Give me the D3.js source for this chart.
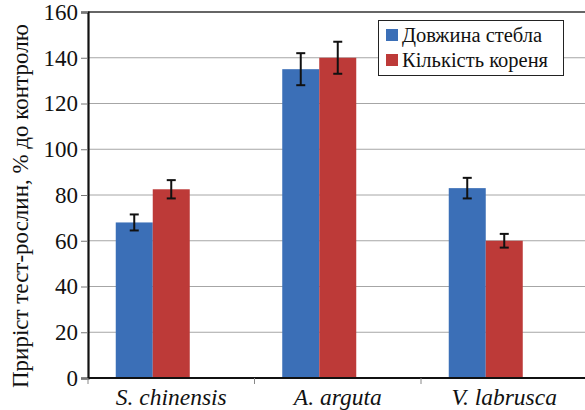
<!DOCTYPE html>
<html><head><meta charset="utf-8">
<script src="https://cdn.jsdelivr.net/npm/d3@7"></script>
<style>body{margin:0;background:#fff}svg{display:block}</style>
</head><body>
<script>
const categories = ["S. chinensis", "A. arguta", "V. labrusca"];
const seriesNames = ["Довжина стебла", "Кількість кореня"];
const stemLength = [68, 135, 83];
const stemErr = [3.5, 7, 4.5];
const rootCount = [82.5, 140, 60];
const rootErr = [4, 7, 3];
const yTicks = [0, 20, 40, 60, 80, 100, 120, 140, 160];
const yLabel = "Приріст тест-рослин, % до контролю";
const colors = ["#3b6fb7", "#bd3a38"];
const FONT = '"Liberation Serif"';

const W = 585, H = 410;
const m = {left: 88, right: 587.5, top: 12, bottom: 378};
const svg = d3.select("body").append("svg").attr("width", W).attr("height", H);

const x0 = d3.scaleBand().domain(categories).range([m.left, m.right]).padding(0);
const bw = x0.bandwidth();
const x1 = d3.scaleBand().domain([...seriesNames, "_"]).range([bw/6, bw*5/6]).padding(0);
const y = d3.scaleLinear().domain([0, 160]).range([m.bottom, m.top]);

// gridlines
svg.append("g").selectAll("line").data(yTicks.filter(d => d > 0 && d < 160)).join("line")
  .attr("x1", m.left).attr("x2", W).attr("y1", d => y(d)).attr("y2", d => y(d))
  .attr("stroke", "#a6a6a6").attr("stroke-width", 1);
// top border
svg.append("line").attr("x1", m.left).attr("x2", W).attr("y1", y(160)).attr("y2", y(160))
  .attr("stroke", "#333").attr("stroke-width", 1.5);

const series = [
  {name: seriesNames[0], values: stemLength, err: stemErr, color: colors[0]},
  {name: seriesNames[1], values: rootCount, err: rootErr, color: colors[1]}
];

series.forEach(s => {
  const g = svg.append("g");
  g.selectAll("rect").data(categories).join("rect")
    .attr("x", (c) => x0(c) + x1(s.name))
    .attr("width", x1.bandwidth())
    .attr("y", (c, i) => y(s.values[i]))
    .attr("height", (c, i) => y(0) - y(s.values[i]))
    .attr("fill", s.color);
});
series.forEach(s => {
  const g = svg.append("g").attr("stroke", "#111").attr("stroke-width", 2);
  categories.forEach((c, i) => {
    const cx = x0(c) + x1(s.name) + x1.bandwidth()/2;
    const hi = y(s.values[i] + s.err[i]), lo = y(s.values[i] - s.err[i]);
    g.append("line").attr("x1", cx).attr("x2", cx).attr("y1", hi).attr("y2", lo);
    g.append("line").attr("x1", cx-4.5).attr("x2", cx+4.5).attr("y1", hi).attr("y2", hi);
    g.append("line").attr("x1", cx-4.5).attr("x2", cx+4.5).attr("y1", lo).attr("y2", lo);
  });
});

// y axis
const yAxis = svg.append("g").attr("transform", `translate(${m.left},0)`)
  .call(d3.axisLeft(y).tickValues(yTicks).tickSize(7).tickPadding(3));
yAxis.attr("font-family", FONT).attr("font-size", 23);
yAxis.select(".domain").attr("stroke", "#111").attr("stroke-width", 2.2);
yAxis.selectAll(".tick line").attr("stroke", "#777");
yAxis.selectAll("text").style("font-family", FONT).style("font-size", "23px").attr("fill", "#111");

// x axis
const xAxis = svg.append("g").attr("transform", `translate(0,${m.bottom})`);
xAxis.append("line").attr("x1", m.left).attr("x2", W).attr("stroke", "#111").attr("stroke-width", 1.8);
xAxis.selectAll(".tk").data(categories).join("line").attr("class","tk")
  .attr("x1", c => x0(c)).attr("x2", c => x0(c)).attr("y1", 0).attr("y2", 6)
  .attr("stroke", "#888");
xAxis.selectAll("text").data(categories).join("text")
  .attr("x", c => x0(c) + bw/2).attr("y", 27)
  .attr("text-anchor", "middle")
  .style("font-family", FONT).style("font-style", "italic").style("font-size", "23.5px")
  .attr("fill", "#111").text(c => c);

// y label
svg.append("text").attr("transform", `translate(28,${388}) rotate(-90)`)
  .style("font-family", FONT).style("font-size", "23px").attr("fill", "#111")
  .text(yLabel);

// legend
const lg = svg.append("g");
lg.append("rect").attr("x", 378.5).attr("y", 20.5).attr("width", 185).attr("height", 55)
  .attr("fill", "#fff").attr("stroke", "#222").attr("stroke-width", 1);
series.forEach((s, i) => {
  const yy = 35 + i*25;
  lg.append("rect").attr("x", 386).attr("y", yy-6).attr("width", 12).attr("height", 12).attr("fill", s.color);
  lg.append("text").attr("x", 402).attr("y", yy+7)
    .style("font-family", FONT).style("font-size", "20.5px").attr("fill", "#111").text(s.name);
});
</script>
</body></html>
